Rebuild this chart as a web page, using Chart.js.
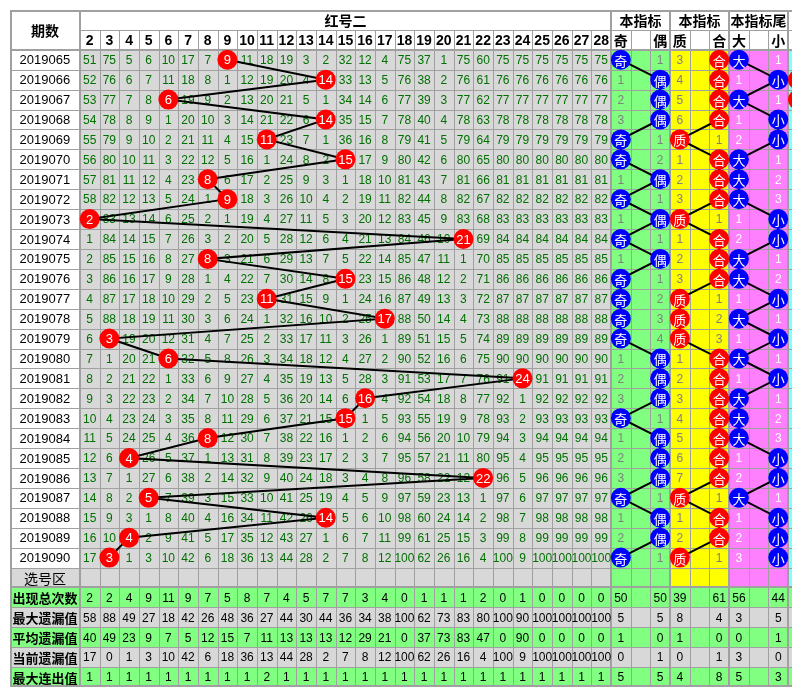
<!DOCTYPE html>
<html>
<head>
<meta charset="utf-8">
<script src="https://cdn.jsdelivr.net/npm/chart.js@4/dist/chart.umd.min.js"></script>
<style>html,body{margin:0;padding:0;background:#fff;}canvas{display:block;}</style>
</head>
<body>
<canvas id="c" width="802" height="700"></canvas>
<script>
// ---------------- data ----------------
const periods = ['2019065','2019066','2019067','2019068','2019069','2019070','2019071','2019072','2019073','2019074','2019075','2019076','2019077','2019078','2019079','2019080','2019081','2019082','2019083','2019084','2019085','2019086','2019087','2019088','2019089','2019090'];
const numberLabels = [2,3,4,5,6,7,8,9,10,11,12,13,14,15,16,17,18,19,20,21,22,23,24,25,26,27,28];
const tableTitle = '红号二';
const periodHead = '期数';
const selectRowLabel = '选号区';
const panelHeads = ['本指标','本指标','本指标尾'];
const panelLabels = ['奇','','偶','质','','合','大','','小'];
// hit value (red ball 2) per period
const hits = [9,14,6,14,11,15,8,9,2,21,8,15,11,17,3,6,24,16,15,8,4,22,5,14,4,3];
// omission per period for numbers 2..28 (0 = hit cell)
const missRows = [
 [51,75,5,6,10,17,7,0,11,18,19,3,2,32,12,4,75,37,1,75,60,75,75,75,75,75,75],
 [52,76,6,7,11,18,8,1,12,19,20,4,0,33,13,5,76,38,2,76,61,76,76,76,76,76,76],
 [53,77,7,8,0,19,9,2,13,20,21,5,1,34,14,6,77,39,3,77,62,77,77,77,77,77,77],
 [54,78,8,9,1,20,10,3,14,21,22,6,0,35,15,7,78,40,4,78,63,78,78,78,78,78,78],
 [55,79,9,10,2,21,11,4,15,0,23,7,1,36,16,8,79,41,5,79,64,79,79,79,79,79,79],
 [56,80,10,11,3,22,12,5,16,1,24,8,2,0,17,9,80,42,6,80,65,80,80,80,80,80,80],
 [57,81,11,12,4,23,0,6,17,2,25,9,3,1,18,10,81,43,7,81,66,81,81,81,81,81,81],
 [58,82,12,13,5,24,1,0,18,3,26,10,4,2,19,11,82,44,8,82,67,82,82,82,82,82,82],
 [0,83,13,14,6,25,2,1,19,4,27,11,5,3,20,12,83,45,9,83,68,83,83,83,83,83,83],
 [1,84,14,15,7,26,3,2,20,5,28,12,6,4,21,13,84,46,10,0,69,84,84,84,84,84,84],
 [2,85,15,16,8,27,0,3,21,6,29,13,7,5,22,14,85,47,11,1,70,85,85,85,85,85,85],
 [3,86,16,17,9,28,1,4,22,7,30,14,8,0,23,15,86,48,12,2,71,86,86,86,86,86,86],
 [4,87,17,18,10,29,2,5,23,0,31,15,9,1,24,16,87,49,13,3,72,87,87,87,87,87,87],
 [5,88,18,19,11,30,3,6,24,1,32,16,10,2,25,0,88,50,14,4,73,88,88,88,88,88,88],
 [6,0,19,20,12,31,4,7,25,2,33,17,11,3,26,1,89,51,15,5,74,89,89,89,89,89,89],
 [7,1,20,21,0,32,5,8,26,3,34,18,12,4,27,2,90,52,16,6,75,90,90,90,90,90,90],
 [8,2,21,22,1,33,6,9,27,4,35,19,13,5,28,3,91,53,17,7,76,91,0,91,91,91,91],
 [9,3,22,23,2,34,7,10,28,5,36,20,14,6,0,4,92,54,18,8,77,92,1,92,92,92,92],
 [10,4,23,24,3,35,8,11,29,6,37,21,15,0,1,5,93,55,19,9,78,93,2,93,93,93,93],
 [11,5,24,25,4,36,0,12,30,7,38,22,16,1,2,6,94,56,20,10,79,94,3,94,94,94,94],
 [12,6,0,26,5,37,1,13,31,8,39,23,17,2,3,7,95,57,21,11,80,95,4,95,95,95,95],
 [13,7,1,27,6,38,2,14,32,9,40,24,18,3,4,8,96,58,22,12,0,96,5,96,96,96,96],
 [14,8,2,0,7,39,3,15,33,10,41,25,19,4,5,9,97,59,23,13,1,97,6,97,97,97,97],
 [15,9,3,1,8,40,4,16,34,11,42,26,0,5,6,10,98,60,24,14,2,98,7,98,98,98,98],
 [16,10,0,2,9,41,5,17,35,12,43,27,1,6,7,11,99,61,25,15,3,99,8,99,99,99,99],
 [17,0,1,3,10,42,6,18,36,13,44,28,2,7,8,12,100,62,26,16,4,100,9,100,100,100,100]
];
const parity     = ['奇','偶','偶','偶','奇','奇','偶','奇','偶','奇','偶','奇','奇','奇','奇','偶','偶','偶','奇','偶','偶','偶','奇','偶','偶','奇'];
const parityMiss = [1,1,2,3,1,2,1,1,1,1,1,1,2,3,4,1,2,3,1,1,2,3,1,1,2,1];
const primeComp  = ['合','合','合','合','质','合','合','合','质','合','合','合','质','质','质','合','合','合','合','合','合','合','质','合','合','质'];
const primeMiss  = [3,4,5,6,1,1,2,3,1,1,2,3,1,2,3,1,2,3,4,5,6,7,1,1,2,1];
const bigSmall   = ['大','小','大','小','小','大','大','大','小','小','大','大','小','大','小','大','小','大','大','大','小','小','大','小','小','小'];
const bigSmallMiss = [1,1,1,1,2,1,2,3,1,2,1,2,1,1,1,1,1,1,2,3,1,2,1,1,2,3];
// rows with a mark in the first column of the next (cut-off) panel
const nextPanelRows = [1,2,3,13,14,15,16,17,20,23,24,25];
const statLabels = ['出现总次数','最大遗漏值','平均遗漏值','当前遗漏值','最大连出值'];
const statNumbers = [
 [2,2,4,9,11,9,7,5,8,7,4,5,7,7,3,4,0,1,1,1,2,0,1,0,0,0,0],
 [58,88,49,27,18,42,26,48,36,27,44,30,44,36,34,38,100,62,73,83,80,100,90,100,100,100,100],
 [40,49,23,9,7,5,12,15,7,11,13,13,13,12,29,21,0,37,73,83,47,0,90,0,0,0,0],
 [17,0,1,3,10,42,6,18,36,13,44,28,2,7,8,12,100,62,26,16,4,100,9,100,100,100,100],
 [1,1,1,1,1,1,1,1,1,2,1,1,1,1,1,1,1,1,1,1,1,1,1,1,1,1,1]
];
const statPanels = [
 [50,'',50,39,'',61,56,'',44],
 [5,'',5,8,'',4,3,'',5],
 [1,'',0,1,'',0,0,'',1],
 [0,'',1,0,'',1,3,'',0],
 [5,'',5,4,'',8,5,'',3]
];

// ---------------- styles ----------------
const GRAY = '#d8d8d8', GREEN = '#80ff80', YELLOW = '#ffff00', PINK = '#ff80ff', CYAN = '#80ffff';
const LINE = '#a0a0a0', NUMTXT = '#007000';
const panelColors = [GREEN, YELLOW, PINK];
const panelTextColors = ['#808080', '#808080', '#ffffff'];
const CJK = '"Noto Sans CJK SC"';
const LAT = '"Liberation Sans"';

const nRows = periods.length, nCols = numberLabels.length;
const pStart = nCols;           // first panel column index
const selRow = nRows;           // 选号区 row index
const statTop = nRows + 1;      // first stats row

const colOfNumber = v => numberLabels.indexOf(v) + 0.5;
const colOfPanel = lab => pStart + panelLabels.indexOf(lab) + 0.5;

const tablePlugin = {
  id: 'tableGrid',
  beforeDatasetsDraw(chart) {
    const ctx = chart.ctx, xs = chart.scales.x, ys = chart.scales.y;
    const X = v => Math.round(xs.getPixelForValue(v));
    const Y = v => Math.round(ys.getPixelForValue(v));
    const L = xs.min, R = xs.max, T = ys.min, B = ys.max;
    ctx.save();
    const fill = (x0, y0, x1, y1, c) => { ctx.fillStyle = c; ctx.fillRect(X(x0), Y(y0), X(x1) - X(x0), Y(y1) - Y(y0)); };
    // backgrounds
    fill(L, T, R, B, '#ffffff');
    fill(L, selRow, 0, selRow + 1, GRAY);
    fill(0, 0, nCols, selRow + 1, GRAY);
    panelColors.forEach((c, k) => fill(pStart + 3 * k, 0, pStart + 3 * k + 3, selRow + 1, c));
    fill(pStart + 9, 0, R, selRow + 1, CYAN);
    statLabels.forEach((s, k) => fill(L, statTop + k, R, statTop + k + 1, k % 2 === 0 ? GREEN : GRAY));

    // grid lines
    ctx.fillStyle = LINE;
    const vline = (x, y0, y1, w) => ctx.fillRect(X(x) - (w > 1 ? 1 : 0), Y(y0), w, Y(y1) - Y(y0));
    const hline = (y, x0, x1, w) => ctx.fillRect(X(x0), Y(y) - (w > 1 ? 1 : 0), X(x1) - X(x0), w);
    for (let c = 1; c < nCols; c++) vline(c, -1, B, 1);
    for (let k = 0; k < 3; k++) { vline(pStart + 3 * k + 1, -1, B, 1); vline(pStart + 3 * k + 2, -1, B, 1); }
    for (let r = 1; r < selRow + 1; r++) hline(r, L, R, 1);
    for (let r = statTop + 1; r < B; r++) hline(r, L, R, 1);
    hline(-1, 0, R, 1);
    [0, pStart, pStart + 3, pStart + 6, pStart + 9].forEach(x => vline(x, T, B, 2));
    hline(0, L, R, 2);
    hline(statTop, L, R, 2);
    // outer frame
    ctx.fillRect(X(L), Y(T), 2, Y(B) - Y(T));
    ctx.fillRect(X(L), Y(T), X(R) - X(L), 2);
    ctx.fillRect(X(L), Y(B) - 2, X(R) - X(L), 2);

    ctx.textAlign = 'center';
    ctx.textBaseline = 'middle';
    const txt = (s, x, y, font, color) => { ctx.font = font; ctx.fillStyle = color; ctx.fillText(String(s), xs.getPixelForValue(x), ys.getPixelForValue(y) + 1); };
    const pMid = (L + 0) / 2;
    // headers
    txt(periodHead, pMid, -1, 'bold 14px ' + CJK, '#000');
    txt(tableTitle, nCols / 2, -1.5, 'bold 14px ' + CJK, '#000');
    panelHeads.forEach((h, k) => txt(h, pStart + 3 * k + 1.5, -1.5, 'bold 14px ' + CJK, '#000'));
    numberLabels.forEach((n, c) => txt(n, c + 0.5, -0.5, 'bold 14px ' + LAT, '#000'));
    panelLabels.forEach((h, c) => { if (h) txt(h, pStart + c + 0.5, -0.5, 'bold 14px ' + CJK, '#000'); });
    // periods & omissions
    periods.forEach((p, r) => {
      txt(p, pMid, r + 0.5, '13px ' + LAT, '#000');
      missRows[r].forEach((v, c) => { if (v > 0) txt(v, c + 0.5, r + 0.5, '12px ' + LAT, NUMTXT); });
      const other = (a, b, lab) => lab === a ? b : a;
      txt(parityMiss[r], colOfPanel(other('奇', '偶', parity[r])), r + 0.5, '12px ' + LAT, panelTextColors[0]);
      txt(primeMiss[r], colOfPanel(other('质', '合', primeComp[r])), r + 0.5, '12px ' + LAT, panelTextColors[1]);
      txt(bigSmallMiss[r], colOfPanel(other('大', '小', bigSmall[r])), r + 0.5, '12px ' + LAT, panelTextColors[2]);
    });
    txt(selectRowLabel, pMid, selRow + 0.5, '14px ' + CJK, '#000');
    // stats
    statLabels.forEach((s, k) => {
      const y = statTop + k + 0.5;
      txt(s, pMid, y, 'bold 13px ' + CJK, '#000');
      statNumbers[k].forEach((v, c) => txt(v, c + 0.5, y, '12px ' + LAT, '#000'));
      statPanels[k].forEach((v, c) => { if (v !== '') txt(v, pStart + c + 0.5, y, '12px ' + LAT, '#000'); });
    });
    ctx.restore();
  },
  afterDatasetsDraw(chart) {
    const ctx = chart.ctx;
    ctx.save();
    ctx.textAlign = 'center';
    ctx.textBaseline = 'middle';
    ctx.fillStyle = '#ffffff';
    chart.data.datasets.forEach((ds, di) => {
      if (!ds.circleText) return;
      const meta = chart.getDatasetMeta(di);
      ctx.font = ds.circleFont;
      meta.data.forEach((pt, j) => ctx.fillText(String(ds.circleText[j]), pt.x, pt.y + 1));
    });
    ctx.restore();
  }
};

const circleSet = (points, color, text, font, line) => ({
  data: points,
  showLine: line,
  borderColor: '#000000',
  borderWidth: 2,
  pointRadius: 10,
  pointHoverRadius: 10,
  pointBackgroundColor: color,
  pointBorderColor: color,
  pointBorderWidth: 0,
  circleText: text,
  circleFont: font
});

new Chart(document.getElementById('c'), {
  type: 'scatter',
  data: {
    datasets: [
      circleSet(hits.map((v, r) => ({ x: colOfNumber(v), y: r + 0.5 })), '#ff0000', hits, '13px ' + LAT, true),
      circleSet(parity.map((v, r) => ({ x: colOfPanel(v), y: r + 0.5 })), '#0000ff', parity, '13px ' + CJK, true),
      circleSet(primeComp.map((v, r) => ({ x: colOfPanel(v), y: r + 0.5 })), '#ff0000', primeComp, '13px ' + CJK, true),
      circleSet(bigSmall.map((v, r) => ({ x: colOfPanel(v), y: r + 0.5 })), '#0000ff', bigSmall, '13px ' + CJK, true),
      circleSet(nextPanelRows.map(r => ({ x: pStart + 9.5, y: r + 0.5 })), '#ff0000', null, '', false)
    ]
  },
  options: {
    responsive: false,
    animation: false,
    events: [],
    layout: { padding: { left: 7, top: 7, right: 0, bottom: 13 } },
    scales: {
      x: { type: 'linear', display: false, min: -3.55, max: 36.2 },
      y: { type: 'linear', display: false, min: -2, max: 32, reverse: true }
    },
    plugins: { legend: { display: false }, tooltip: { enabled: false } }
  },
  plugins: [tablePlugin]
});
</script>
</body>
</html>
